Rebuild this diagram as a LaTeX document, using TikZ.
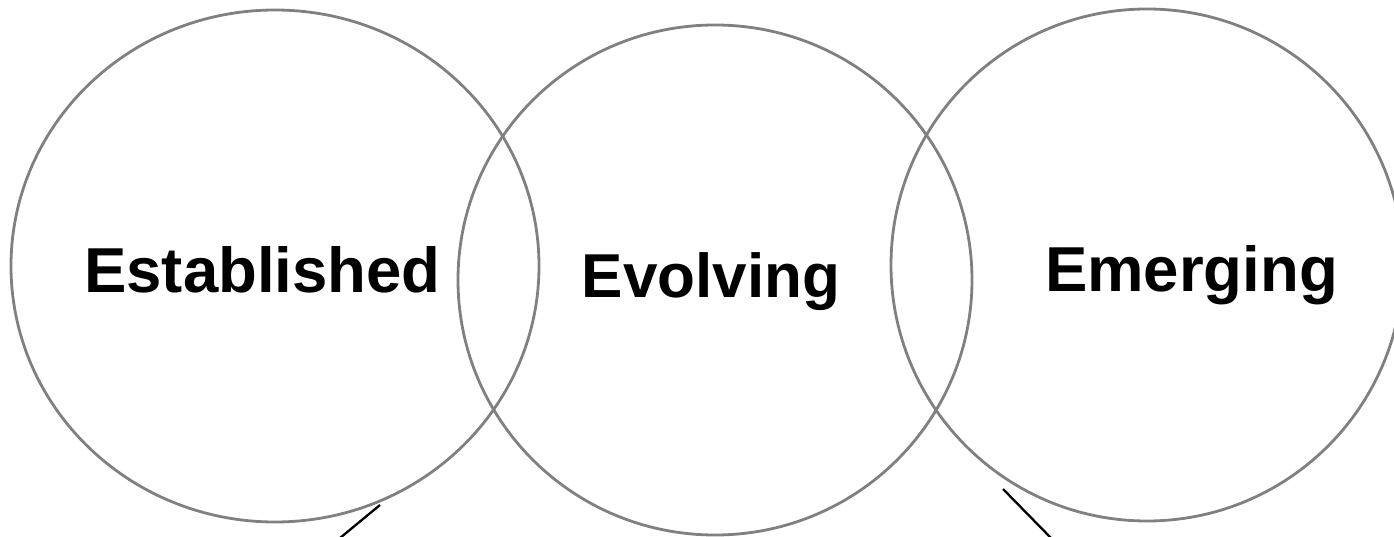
\documentclass[tikz,border=0pt]{standalone}
\usepackage{fontspec}
\setmainfont{Liberation Sans}
\usetikzlibrary{shapes.geometric}
\definecolor{ringgray}{HTML}{808080}
\begin{document}
\begin{tikzpicture}[x=1pt,y=-1pt,
  ring/.style={draw=ringgray, line width=2.8pt, ellipse, inner sep=0pt},
  word/.style={font=\fontsize{63.5}{64}\selectfont\bfseries, anchor=base, inner sep=0pt},
  pointer/.style={draw=black, line width=2.3pt}]
\useasboundingbox (0,0) rectangle (1394,537);
\clip (0,0) rectangle (1394,537);
\node[ring, minimum width=528pt, minimum height=512pt] (est) at (275,266) {};
\node[ring, minimum width=514pt, minimum height=510pt] (evo) at (715,280) {};
\node[ring, minimum width=512pt, minimum height=512pt] (emg) at (1147,265) {};
\node[word] (testab) at (262.5,292) {Established};
\node[word, font=\fontsize{62}{62}\selectfont\bfseries] (tevo) at (711,298) {Evolving};
\node[word] (temg) at (1191.5,291) {Emerging};
\coordinate (p1a) at (380,505);
\coordinate (p1b) at (340,538);
\coordinate (p2a) at (1003,489);
\coordinate (p2b) at (1051,538);
\draw[pointer] (p1a) -- (p1b);
\draw[pointer] (p2a) -- (p2b);
\end{tikzpicture}
\end{document}
